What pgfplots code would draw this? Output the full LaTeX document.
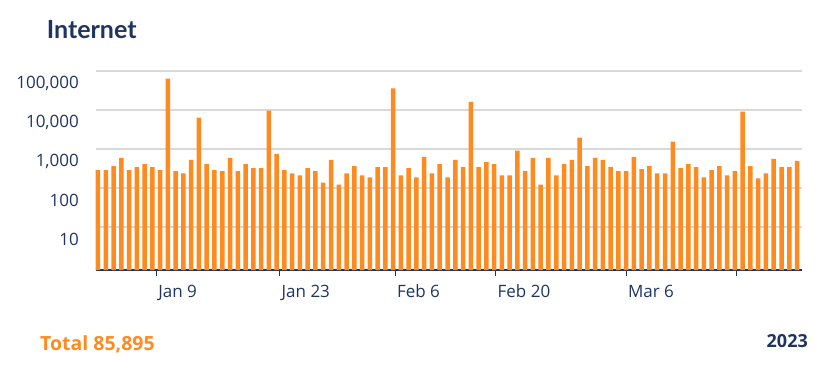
\documentclass[border=0pt]{standalone}
\usepackage{fontspec}
\setmainfont{Open Sans}
\newfontfamily\latofont{Lato}
\usepackage{pgfplots}
\usepackage{pgfplotstable}
\pgfplotsset{compat=1.18}
\definecolor{navy}{HTML}{1F3560}
\definecolor{barorange}{HTML}{FF8A1F}
\definecolor{gridgray}{HTML}{D9D9D9}
\pgfplotstableread{
x y
0 286
1 286
2 364
3 591
4 286
5 343
6 411
7 343
8 286
9 63300
10 269
11 238
12 524
13 6350
14 411
15 286
16 269
17 591
18 269
19 411
20 323
21 323
22 9620
23 754
24 286
25 238
26 211
27 323
28 269
29 138
30 524
31 122
32 238
33 364
34 211
35 187
36 343
37 343
38 35800
39 211
40 323
41 187
42 628
43 238
44 411
45 187
46 524
47 343
48 16100
49 343
50 464
51 411
52 211
53 211
54 904
55 269
56 591
57 122
58 591
59 211
60 411
61 524
62 1950
63 364
64 591
65 524
66 343
67 269
68 269
69 628
70 304
71 364
72 238
73 238
74 1540
75 323
76 411
77 343
78 187
79 286
80 364
81 211
82 269
83 9060
84 364
85 176
86 238
87 557
88 343
89 343
90 493
}\internet
\begin{document}
\begin{tikzpicture}
\path[use as bounding box] (0,0) rectangle (826pt,367pt);
\begin{axis}[
  at={(95.5pt,97pt)}, anchor=south west,
  scale only axis, width=706.5pt, height=199pt,
  ymode=log, log origin=infty,
  ymin=0.79, ymax=100000,
  xmin=-0.32, xmax=90.64,
  ybar, bar width=4.5pt, bar shift=0pt,
  axis x line*=bottom, axis y line*=left,
  x axis line style={draw=navy, line width=1.2pt},
  y axis line style={draw=none},
  ymajorgrids, grid style={draw=gridgray, line width=1.3pt},
  ytick={10,100,1000,10000,100000},
  yticklabels={10,100,{1,000},{10,000},{100,000}},
  ytick style={draw=none},
  yticklabel style={anchor=east, inner sep=0pt, xshift=-10.5pt, yshift=-12pt, font=\fontsize{17}{20}\selectfont, text=navy},
  xtick={7.56,23.43,38.28,51.24,68.02,82.18},
  xticklabels={Jan 9,Jan 23,Feb 6,Feb 20,Mar 6,{}},
  tick align=outside, major tick length=6pt,
  xtick style={draw=navy, line width=1pt},
  xticklabel style={anchor=base west, inner sep=0pt, xshift=1.5pt, yshift=-22pt, font=\fontsize{17}{20}\selectfont, text=navy},
  clip=false,
]
\addplot[fill=barorange, draw=none] table[x=x,y=y]{\internet};
\end{axis}
\node[anchor=base west, inner sep=0pt, text=navy, font=\latofont\bfseries\fontsize{25}{30}\selectfont] at (46.7pt,328.7pt) {Internet};
\node[anchor=base west, inner sep=0pt, text=barorange, font=\bfseries\fontsize{19.5}{23}\selectfont] at (40pt,17pt) {Total 85,895};
\node[anchor=base east, inner sep=0pt, text=navy, font=\bfseries\fontsize{18}{22}\selectfont] at (808pt,20pt) {2023};
\end{tikzpicture}
\end{document}
